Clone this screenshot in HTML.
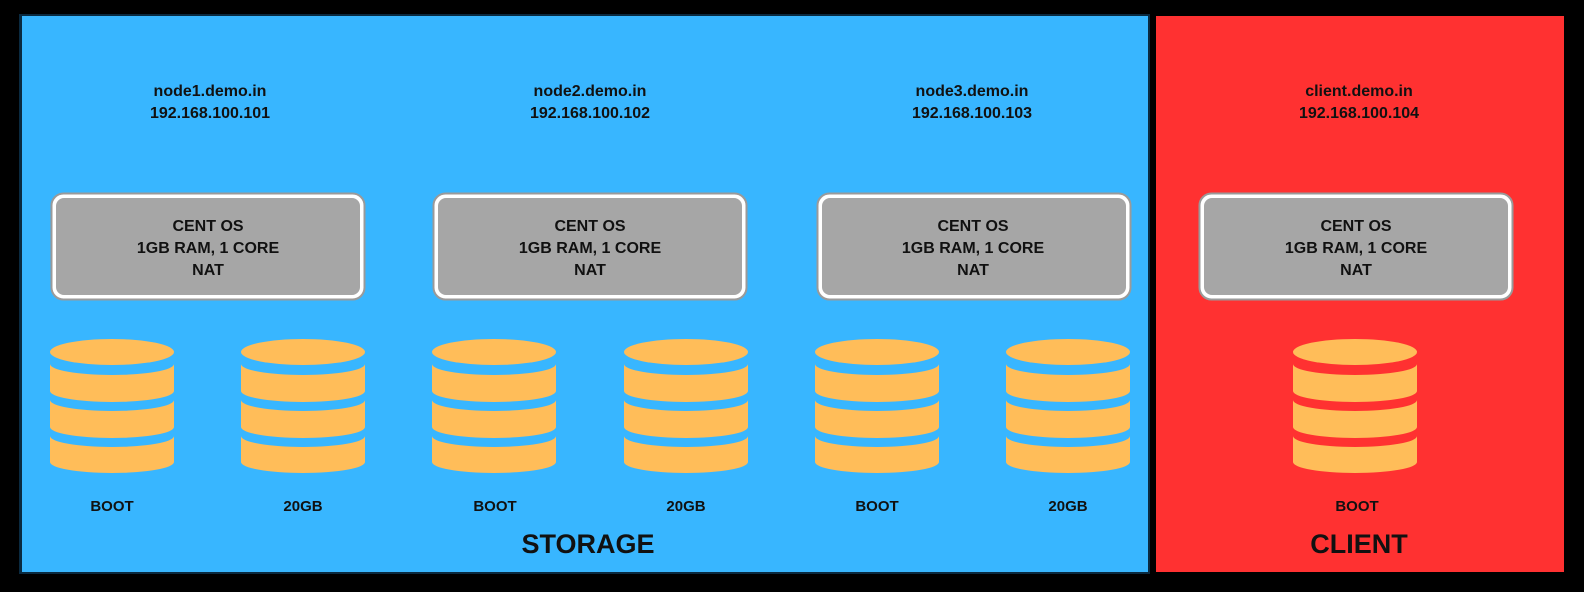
<!DOCTYPE html>
<html><head><meta charset="utf-8"><style>
html,body{margin:0;padding:0;background:#000;}
svg{display:block}
text{font-family:"Liberation Sans",sans-serif;font-weight:bold;fill:#111;text-anchor:middle}
</style></head><body>
<svg width="1584" height="592" viewBox="0 0 1584 592" xmlns="http://www.w3.org/2000/svg">
<defs>
<g id="cyl">
<ellipse cx="0" cy="352" rx="62" ry="13"/>
<path d="M-62,364 A62,11 0 0 0 62,364 L62,391 A62,11 0 0 1 -62,391 Z"/>
<path d="M-62,400 A62,11 0 0 0 62,400 L62,427 A62,11 0 0 1 -62,427 Z"/>
<path d="M-62,436 A62,11 0 0 0 62,436 L62,462 A62,11 0 0 1 -62,462 Z"/>
</g>
<g id="box">
<rect x="0.5" y="0.5" width="313" height="106" rx="12" fill="#ffffff" stroke="#9a9a9a" stroke-width="2"/>
<rect x="5" y="5" width="304" height="97" rx="8" fill="#a6a6a6"/>
</g>
</defs>
<rect x="0" y="0" width="1584" height="592" fill="#000"/>
<rect x="19" y="14" width="1131" height="560" fill="#0a2a40"/>
<rect x="22" y="16" width="1126" height="556" fill="#38b6ff"/>
<rect x="1156" y="16" width="408" height="556" fill="#ff3131"/>

<g font-size="16">
<text x="210" y="96">node1.demo.in</text><text x="210" y="118">192.168.100.101</text>
<text x="590" y="96">node2.demo.in</text><text x="590" y="118">192.168.100.102</text>
<text x="972" y="96">node3.demo.in</text><text x="972" y="118">192.168.100.103</text>
<text x="1359" y="96">client.demo.in</text><text x="1359" y="118">192.168.100.104</text>
</g>

<use href="#box" x="51" y="193"/>
<use href="#box" x="433" y="193"/>
<use href="#box" x="817" y="193"/>
<use href="#box" x="1199" y="193"/>

<g font-size="16">
<text x="208" y="231">CENT OS</text><text x="208" y="253">1GB RAM, 1 CORE</text><text x="208" y="275">NAT</text>
<text x="590" y="231">CENT OS</text><text x="590" y="253">1GB RAM, 1 CORE</text><text x="590" y="275">NAT</text>
<text x="973" y="231">CENT OS</text><text x="973" y="253">1GB RAM, 1 CORE</text><text x="973" y="275">NAT</text>
<text x="1356" y="231">CENT OS</text><text x="1356" y="253">1GB RAM, 1 CORE</text><text x="1356" y="275">NAT</text>
</g>

<g fill="#ffbd59">
<use href="#cyl" x="112"/><use href="#cyl" x="303"/>
<use href="#cyl" x="494"/><use href="#cyl" x="686"/>
<use href="#cyl" x="877"/><use href="#cyl" x="1068"/>
<use href="#cyl" x="1355"/>
</g>

<g font-size="15">
<text x="112" y="511">BOOT</text><text x="303" y="511">20GB</text>
<text x="495" y="511">BOOT</text><text x="686" y="511">20GB</text>
<text x="877" y="511">BOOT</text><text x="1068" y="511">20GB</text>
<text x="1357" y="511">BOOT</text>
</g>
<g font-size="27">
<text x="588" y="553">STORAGE</text>
<text x="1359" y="553">CLIENT</text>
</g>
</svg>
</body></html>
